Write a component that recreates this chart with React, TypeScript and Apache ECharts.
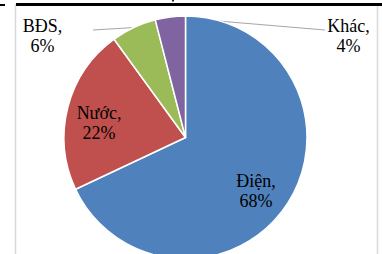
import React, { useEffect, useRef } from "react";
import * as echarts from "echarts";

const categories = ["Điện", "Nước", "BĐS", "Khác"];
const values = [68, 22, 6, 4];
const colors = ["#4f81bd", "#c0504d", "#9bbb59", "#8064a2"];

// label layout (pixel positions of label centres; outside labels get a leader end point)
const labelPos: { x: number; y: number; end?: [number, number] }[] = [
  { x: 256, y: 191 },
  { x: 99, y: 123 },
  { x: 42.5, y: 35.5, end: [93, 30] },
  { x: 348.5, y: 35.5, end: [325, 30] },
];

export default function App() {
  const ref = useRef<HTMLDivElement>(null);
  useEffect(() => {
    document.body.style.margin = "0";
    const chart = echarts.init(ref.current!, null, { renderer: "svg" });
    const data = categories.map((name, i) => {
      const outside = !!labelPos[i].end;
      return {
        name,
        value: values[i],
        itemStyle: { color: colors[i] },
        label: { position: outside ? "outside" : "inside" },
        labelLine: { show: outside },
      };
    });
    chart.setOption({
      animation: false,
      graphic: [
        {
          type: "rect",
          shape: { x: 15.5, y: 5, width: 362, height: 260 },
          style: { fill: "none", stroke: "#d9d9d9", lineWidth: 1.5 },
          z: 0,
        },
        { type: "rect", shape: { x: 16, y: 3, width: 366, height: 3 }, style: { fill: "#000" }, z: 10 },
        { type: "rect", shape: { x: 0, y: 4, width: 5, height: 2 }, style: { fill: "#000" }, z: 10 },
        { type: "rect", shape: { x: 172, y: 0, width: 2, height: 1.5 }, style: { fill: "#222" }, z: 10 },
      ],
      series: [
        {
          type: "pie",
          center: [185.5, 137.5],
          radius: 121.5,
          startAngle: 90,
          clockwise: true,
          silent: true,
          emphasis: { disabled: true },
          itemStyle: { borderColor: "#fff", borderWidth: 1.5 },
          label: {
            show: true,
            formatter: (p: any) => `${p.name},\n${p.value}%`,
            fontFamily: "Liberation Serif",
            fontSize: 18,
            lineHeight: 20,
            color: "#000",
            align: "center",
          },
          labelLine: {
            lineStyle: { color: "#a6a6a6", width: 1 },
            length: 10,
            length2: 10,
          },
          labelLayout: (params: any) => {
            const p = labelPos[params.dataIndex];
            const res: any = { x: p.x, y: p.y, align: "center", verticalAlign: "middle" };
            if (p.end && params.labelLinePoints) {
              res.labelLinePoints = [params.labelLinePoints[0], p.end, p.end];
            }
            return res;
          },
          data,
        },
      ],
    });
    return () => chart.dispose();
  }, []);
  return <div ref={ref} style={{ width: 382, height: 254 }} />;
}
